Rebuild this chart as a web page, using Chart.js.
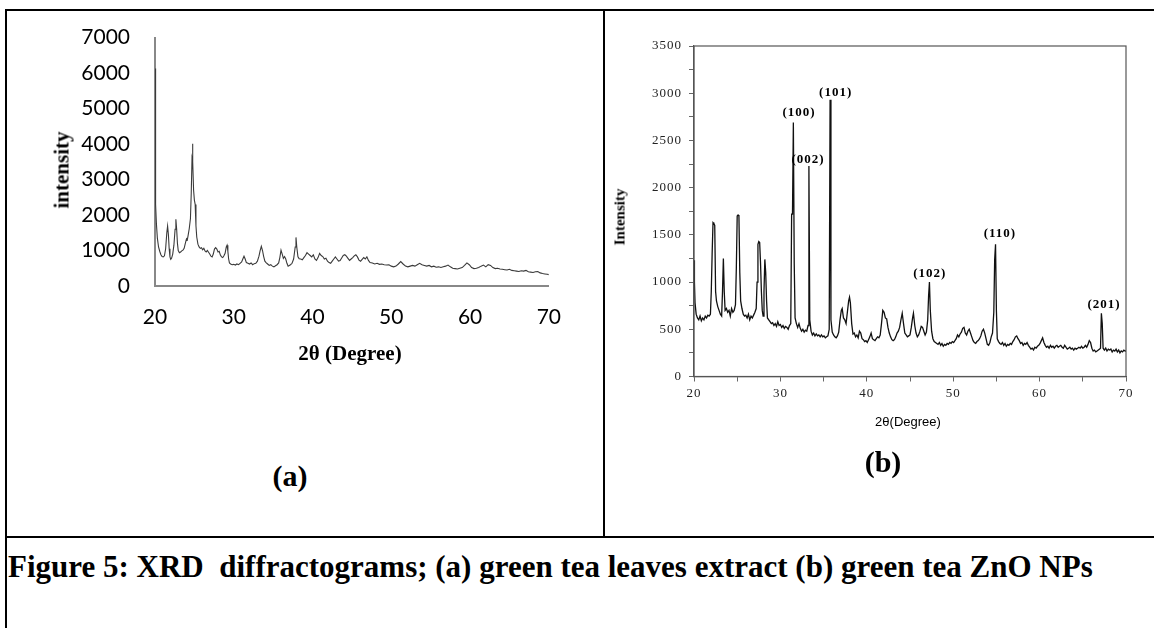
<!DOCTYPE html>
<html>
<head>
<meta charset="utf-8">
<script src="https://cdn.jsdelivr.net/npm/chart.js@4.4.0/dist/chart.umd.min.js"></script>
<style>
  html, body { margin: 0; padding: 0; background: #fff; }
  #page { position: relative; width: 1154px; height: 628px; overflow: hidden; background: #fff; }
  canvas { position: absolute; }
  .ln { position: absolute; background: #000; }
  .txt { position: absolute; white-space: nowrap; transform: translate(-50%, -50%); color: #000; }
  .serif { font-family: "Liberation Serif", "Times New Roman", serif; font-weight: bold; }
</style>
</head>
<body>
<div id="page">
  <canvas id="chartA" width="580" height="360" style="left:0px; top:0px;"></canvas>
  <canvas id="chartB" width="548" height="470" style="left:606px; top:0px;"></canvas>

  <div class="ln" style="left:5px; top:9px; width:2px; height:619px;"></div>
  <div class="ln" style="left:5px; top:9px; width:1149px; height:2px;"></div>
  <div class="ln" style="left:603px; top:9px; width:2px; height:529px;"></div>
  <div class="ln" style="left:5px; top:536px; width:1149px; height:2px;"></div>

  <div class="txt serif" style="left:62px; top:170px; font-size:21px; transform: translate(-50%, -50%) rotate(-90deg);">intensity</div>
  <div class="txt serif" style="left:350px; top:353px; font-size:21px;">2θ (Degree)</div>
  <div class="txt serif" style="left:290px; top:476px; font-size:30px;">(a)</div>

  <div class="txt serif" style="left:620px; top:217px; font-size:15px; transform: translate(-50%, -50%) rotate(-90deg);">Intensity</div>
  <div class="txt" style="left:908px; top:421px; font-size:13px; font-family:'Liberation Sans Narrow','Liberation Sans',sans-serif;">2θ(Degree)</div>
  <div class="txt serif" style="left:883px; top:462px; font-size:30px;">(b)</div>

  <div class="serif" style="position:absolute; left:8px; top:551px; font-size:31px; line-height:31px; white-space:pre;">Figure 5: XRD  diffractograms; (a) green tea leaves extract (b) green tea ZnO NPs</div>
</div>

<script>
// (a) green tea leaves extract
var aTheta = [20.00, 20.05, 20.10, 20.18, 20.3, 20.45, 20.6, 20.75, 20.9, 21.05, 21.2, 21.35, 21.5, 21.6, 21.7, 21.8, 21.9, 22.0, 22.1, 22.25,
  22.4, 22.55, 22.65, 22.75, 22.85, 22.95, 23.1, 23.25, 23.4, 23.55, 23.7, 23.85, 24.0, 24.1, 24.2, 24.35, 24.5, 24.6, 24.7, 24.75,
  24.82, 24.9, 25.0, 25.1, 25.2, 25.3, 25.45, 25.6, 25.75, 25.9, 26.05, 26.2, 26.35, 26.5, 26.65, 26.8, 26.95, 27.1, 27.25, 27.4,
  27.55, 27.7, 27.85, 28.0, 28.15, 28.3, 28.45, 28.6, 28.75, 28.9, 29.05, 29.15, 29.25, 29.35, 29.45, 29.6, 29.8, 30.0, 30.2, 30.4,
  30.6, 30.8, 31.0, 31.15, 31.3, 31.45, 31.6, 31.8, 32.0, 32.2, 32.4, 32.6, 32.8, 33.0, 33.2, 33.35, 33.5, 33.65, 33.8, 33.95,
  34.1, 34.3, 34.5, 34.7, 34.9, 35.1, 35.3, 35.5, 35.7, 35.85, 36.0, 36.15, 36.3, 36.45, 36.6, 36.75, 36.9, 37.05, 37.2, 37.4,
  37.6, 37.8, 37.9, 38.0, 38.15, 38.3, 38.5, 38.7, 38.9, 39.1, 39.3, 39.5, 39.7, 39.9, 40.1, 40.3, 40.5, 40.7, 40.9, 41.1,
  41.3, 41.5, 41.7, 41.9, 42.1, 42.3, 42.5, 42.7, 42.9, 43.1, 43.3, 43.5, 43.7, 43.9, 44.1, 44.3, 44.5, 44.7, 44.9, 45.1,
  45.3, 45.5, 45.7, 45.9, 46.1, 46.3, 46.5, 46.7, 46.9, 47.1, 47.3, 47.6, 47.9, 48.2, 48.5, 48.8, 49.1, 49.4, 49.7, 50.0,
  50.3, 50.6, 50.9, 51.2, 51.5, 51.8, 52.1, 52.4, 52.7, 53.0, 53.3, 53.6, 53.9, 54.2, 54.5, 54.8, 55.1, 55.4, 55.7, 56.0,
  56.3, 56.6, 56.9, 57.2, 57.5, 57.8, 58.1, 58.4, 58.7, 59.0, 59.3, 59.6, 59.9, 60.2, 60.5, 60.8, 61.1, 61.4, 61.7, 62.0,
  62.3, 62.6, 62.9, 63.2, 63.5, 63.8, 64.1, 64.4, 64.7, 65.0, 65.3, 65.6, 65.9, 66.2, 66.5, 66.8, 67.1, 67.4, 67.7, 68.0,
  68.3, 68.6, 68.9, 69.2, 69.5, 69.8, 70.0];
var aIntensity = [6130, 3600, 2300, 1750, 1350, 1100, 980, 880, 830, 820, 850, 1050, 1500, 1690, 1450, 1050, 820, 750, 780, 900,
  1150, 1600, 1880, 1600, 1200, 1000, 940, 960, 990, 1010, 1060, 1200, 1330, 1300, 1420, 1620, 1900, 2600, 3600, 4010,
  3500, 2700, 2420, 2300, 1700, 1380, 1180, 1100, 1060, 1080, 1020, 1060, 990, 960, 1000, 950, 900, 840, 820, 900,
  1040, 1080, 1040, 960, 980, 870, 820, 800, 850, 920, 1100, 1150, 980, 760, 650, 620, 600, 610, 590, 620,
  600, 640, 680, 760, 840, 760, 660, 640, 620, 650, 600, 630, 640, 700, 840, 1000, 1120, 1000, 830, 700,
  660, 620, 580, 600, 560, 540, 570, 600, 650, 800, 1010, 900, 780, 830, 760, 640, 560, 580, 600, 640,
  760, 1100, 1370, 1100, 820, 770, 760, 740, 800, 860, 940, 900, 860, 820, 880, 760, 720, 800, 920, 860,
  830, 760, 780, 700, 660, 640, 700, 760, 820, 760, 700, 720, 790, 860, 880, 840, 780, 720, 760, 800,
  850, 880, 820, 730, 700, 750, 800, 760, 820, 720, 660, 650, 620, 640, 610, 620, 600, 590, 600, 560,
  540, 560, 620, 690, 620, 560, 540, 560, 580, 560, 600, 640, 600, 580, 560, 580, 540, 560, 530, 540,
  520, 540, 560, 590, 540, 500, 490, 480, 500, 520, 580, 650, 600, 520, 490, 500, 520, 560, 590, 540,
  600, 580, 520, 490, 500, 480, 470, 460, 450, 470, 440, 430, 420, 410, 430, 420, 440, 400, 390, 380,
  400, 410, 370, 350, 340, 330, 320];

// (b) green tea ZnO NPs
var bTheta = [20.0, 20.05, 20.12, 20.25, 20.4, 20.55, 20.7, 20.85, 21.0, 21.15, 21.3, 21.45, 21.6, 21.75, 21.9, 22.0, 22.1, 22.2, 22.3, 22.4,
  22.5, 22.6, 22.75, 22.9, 23.05, 23.2, 23.3, 23.4, 23.5, 23.6, 23.75, 23.9, 24.05, 24.2, 24.35, 24.5, 24.65, 24.8, 24.9, 25.0,
  25.1, 25.2, 25.3, 25.4, 25.55, 25.7, 25.85, 26.0, 26.15, 26.3, 26.45, 26.6, 26.75, 26.9, 27.05, 27.2, 27.3, 27.4, 27.5, 27.6,
  27.7, 27.8, 27.9, 28.0, 28.1, 28.2, 28.3, 28.4, 28.5, 28.65, 28.8, 28.95, 29.1, 29.25, 29.4, 29.55, 29.7, 29.85, 30.0, 30.15,
  30.3, 30.45, 30.6, 30.75, 30.9, 31.05, 31.2, 31.3, 31.4, 31.5, 31.6, 31.7, 31.85, 32.0, 32.15, 32.3, 32.45, 32.6, 32.75, 32.9,
  33.05, 33.2, 33.3, 33.4, 33.55, 33.7, 33.85, 34.0, 34.15, 34.3, 34.45, 34.6, 34.75, 34.9, 35.05, 35.2, 35.35, 35.5, 35.65, 35.75,
  35.85, 36.0, 36.15, 36.3, 36.45, 36.6, 36.75, 36.9, 37.05, 37.15, 37.3, 37.45, 37.6, 37.75, 37.9, 38.0, 38.1, 38.25, 38.4, 38.55,
  38.7, 38.85, 39.0, 39.15, 39.3, 39.45, 39.6, 39.75, 39.9, 40.05, 40.2, 40.35, 40.5, 40.65, 40.8, 40.95, 41.1, 41.25, 41.4, 41.55,
  41.7, 41.85, 42.0, 42.15, 42.3, 42.45, 42.6, 42.75, 42.9, 43.05, 43.2, 43.35, 43.5, 43.65, 43.8, 43.95, 44.1, 44.25, 44.4, 44.55,
  44.7, 44.85, 45.0, 45.15, 45.3, 45.4, 45.55, 45.7, 45.85, 46.0, 46.15, 46.3, 46.45, 46.6, 46.75, 46.9, 47.05, 47.15, 47.25, 47.35,
  47.5, 47.65, 47.8, 47.95, 48.1, 48.25, 48.4, 48.55, 48.7, 48.85, 49.0, 49.15, 49.3, 49.45, 49.6, 49.75, 49.9, 50.05, 50.2, 50.35,
  50.5, 50.65, 50.8, 50.95, 51.1, 51.25, 51.4, 51.55, 51.7, 51.85, 52.0, 52.15, 52.3, 52.45, 52.6, 52.75, 52.9, 53.05, 53.2, 53.35,
  53.5, 53.65, 53.8, 53.95, 54.1, 54.25, 54.4, 54.55, 54.7, 54.8, 54.9, 55.0, 55.1, 55.25, 55.4, 55.55, 55.7, 55.85, 56.0, 56.15,
  56.3, 56.45, 56.6, 56.75, 56.9, 57.05, 57.2, 57.35, 57.5, 57.65, 57.8, 57.95, 58.1, 58.25, 58.4, 58.55, 58.7, 58.85, 59.0, 59.15,
  59.3, 59.45, 59.6, 59.75, 59.9, 60.05, 60.2, 60.35, 60.5, 60.65, 60.8, 60.95, 61.1, 61.25, 61.4, 61.55, 61.7, 61.85, 62.0, 62.15,
  62.3, 62.45, 62.6, 62.75, 62.9, 63.05, 63.2, 63.35, 63.5, 63.65, 63.8, 63.95, 64.1, 64.25, 64.4, 64.55, 64.7, 64.85, 65.0, 65.15,
  65.3, 65.45, 65.6, 65.75, 65.9, 66.05, 66.2, 66.35, 66.5, 66.65, 66.8, 66.95, 67.05, 67.15, 67.25, 67.35, 67.5, 67.65, 67.8, 67.95,
  68.1, 68.25, 68.4, 68.55, 68.7, 68.85, 69.0, 69.15, 69.3, 69.45, 69.6, 69.75, 69.9, 70.0];
var bIntensity = [1230, 1000, 780, 660, 620, 600, 640, 590, 620, 600, 640, 620, 650, 640, 660, 900, 1300, 1630, 1620, 1600,
  900, 800, 740, 700, 660, 640, 900, 1250, 900, 700, 720, 680, 700, 640, 720, 680, 700, 760, 1150, 1700,
  1710, 1700, 1100, 800, 720, 660, 640, 650, 620, 660, 600, 640, 620, 650, 680, 720, 1000, 1400, 1430, 1420,
  1200, 900, 700, 640, 900, 1240, 1100, 800, 620, 600, 580, 560, 570, 540, 560, 530, 580, 540, 550, 520,
  540, 510, 530, 520, 500, 540, 560, 1720, 1720, 2690, 1200, 620, 560, 520, 560, 510, 480, 500, 470, 490,
  480, 540, 2230, 600, 480, 440, 460, 430, 450, 430, 440, 420, 440, 420, 430, 410, 420, 430, 500, 2930,
  600, 470, 440, 420, 410, 430, 470, 600, 700, 720, 620, 600, 560, 680, 800, 840, 780, 560, 450, 460,
  420, 440, 410, 480, 460, 400, 390, 370, 380, 360, 390, 420, 460, 400, 390, 380, 400, 420, 410, 440,
  560, 700, 680, 620, 610, 520, 460, 420, 390, 380, 390, 420, 460, 480, 520, 600, 670, 560, 460, 440,
  420, 430, 440, 520, 620, 670, 540, 460, 420, 440, 480, 530, 520, 480, 440, 470, 600, 850, 1000, 700,
  480, 400, 370, 360, 350, 340, 360, 330, 350, 320, 340, 330, 350, 340, 360, 350, 370, 360, 380, 400,
  440, 420, 450, 470, 510, 520, 460, 440, 480, 500, 460, 420, 380, 360, 350, 370, 380, 400, 430, 480,
  500, 460, 400, 340, 330, 360, 420, 460, 680, 1240, 1400, 700, 400, 370, 350, 340, 360, 330, 350, 320,
  340, 330, 350, 340, 370, 390, 420, 430, 400, 380, 350, 360, 330, 350, 340, 360, 330, 310, 290, 300,
  280, 310, 300, 320, 330, 350, 380, 410, 360, 330, 310, 320, 300, 330, 310, 320, 300, 320, 330, 310,
  320, 330, 310, 300, 330, 310, 290, 300, 310, 290, 300, 280, 300, 290, 300, 310, 300, 320, 300, 310,
  330, 310, 340, 380, 360, 300, 270, 280, 260, 270, 280, 290, 300, 670, 560, 300, 280, 300, 270, 290,
  280, 290, 260, 280, 270, 290, 260, 280, 250, 270, 260, 280, 270, 270];

// peak labels (hkl) and where they sit, in data units
var hklLabels = ['(100)', '(002)', '(101)', '(102)', '(110)', '(201)'];
var hklTheta = [32.15, 33.2, 36.4, 47.3, 55.4, 67.45];
var hklIntensity = [2790, 2300, 3010, 1090, 1515, 760];

function toPoints(xs, ys) {
    var pts = [];
    for (var i = 0; i < xs.length; i++) {
        pts.push({ x: xs[i], y: ys[i] });
    }
    return pts;
}

var frame = {
    id: 'frame',
    beforeDraw: function(chart) {
        chart.ctx.letterSpacing = '1px';
    },
    afterDraw: function(chart) {
        var a = chart.chartArea, c = chart.ctx;
        c.save();
        c.strokeStyle = '#555';
        c.lineWidth = 1.2;
        c.strokeRect(a.left, a.top, a.right - a.left, a.bottom - a.top);
        c.restore();
    }
};

var hklText = {
    id: 'hklText',
    afterDatasetsDraw: function(chart) {
        var c = chart.ctx;
        c.save();
        c.font = 'bold 13px "Liberation Serif", serif';
        c.fillStyle = '#000';
        c.textAlign = 'center';
        c.textBaseline = 'middle';
        for (var i = 0; i < hklLabels.length; i++) {
            c.fillText(hklLabels[i], chart.scales.x.getPixelForValue(hklTheta[i]), chart.scales.y.getPixelForValue(hklIntensity[i]));
        }
        c.restore();
    }
};

var ctxA = document.getElementById('chartA').getContext('2d');
var chartA = new Chart(ctxA, {
    type: 'line',
    data: {
        datasets: [{
            data: toPoints(aTheta, aIntensity),
            borderColor: '#3a3a3a',
            borderWidth: 1.1,
            pointRadius: 0,
            tension: 0
        }]
    },
    options: {
        responsive: false,
        animation: false,
        devicePixelRatio: 1,
        layout: { padding: { top: 37, right: 29, bottom: 29, left: 0 } },
        plugins: { legend: { display: false }, tooltip: { enabled: false } },
        scales: {
            x: {
                type: 'linear', min: 20, max: 70,
                ticks: { stepSize: 10, color: '#000', padding: 19, maxRotation: 0, font: { family: 'Lato', size: 21 } },
                grid: { display: false, drawTicks: false },
                border: { color: '#888', width: 2 },
                afterFit: function(s) { s.height = 45; }
            },
            y: {
                min: 0, max: 7000,
                ticks: {
                    stepSize: 1000, color: '#000', padding: 25, font: { family: 'Lato', size: 21 },
                    callback: function(v) { return String(v); }
                },
                grid: { display: false, drawTicks: false },
                border: { color: '#888', width: 2 },
                afterFit: function(s) { s.width = 155; }
            }
        }
    }
});

var ctxB = document.getElementById('chartB').getContext('2d');
var chartB = new Chart(ctxB, {
    type: 'line',
    data: {
        datasets: [{
            data: toPoints(bTheta, bIntensity),
            borderColor: '#111',
            borderWidth: 1.3,
            pointRadius: 0,
            tension: 0
        }]
    },
    options: {
        responsive: false,
        animation: false,
        devicePixelRatio: 1,
        layout: { padding: { top: 46, right: 28, bottom: 58.5, left: 0 } },
        plugins: { legend: { display: false }, tooltip: { enabled: false } },
        scales: {
            x: {
                type: 'linear', min: 20, max: 70,
                ticks: {
                    stepSize: 5, autoSkip: false, maxRotation: 0, color: '#222', padding: 4,
                    font: { family: 'Liberation Serif', size: 13 },
                    callback: function(v) { return v % 10 === 0 ? v : ''; }
                },
                grid: { display: true, drawOnChartArea: false, drawTicks: true, tickLength: 5, color: '#666' },
                border: { color: '#555', width: 1.2 },
                afterFit: function(s) { s.height = 35; }
            },
            y: {
                min: 0, max: 3500,
                ticks: {
                    stepSize: 250, autoSkip: false, color: '#222', padding: 7,
                    font: { family: 'Liberation Serif', size: 13 },
                    callback: function(v) { return v % 500 === 0 ? String(v) : ''; }
                },
                grid: { display: true, drawOnChartArea: false, drawTicks: true, tickLength: 5, color: '#666' },
                border: { color: '#555', width: 1.2 },
                afterFit: function(s) { s.width = 88; }
            }
        }
    },
    plugins: [frame, hklText]
});
</script>
</body>
</html>
